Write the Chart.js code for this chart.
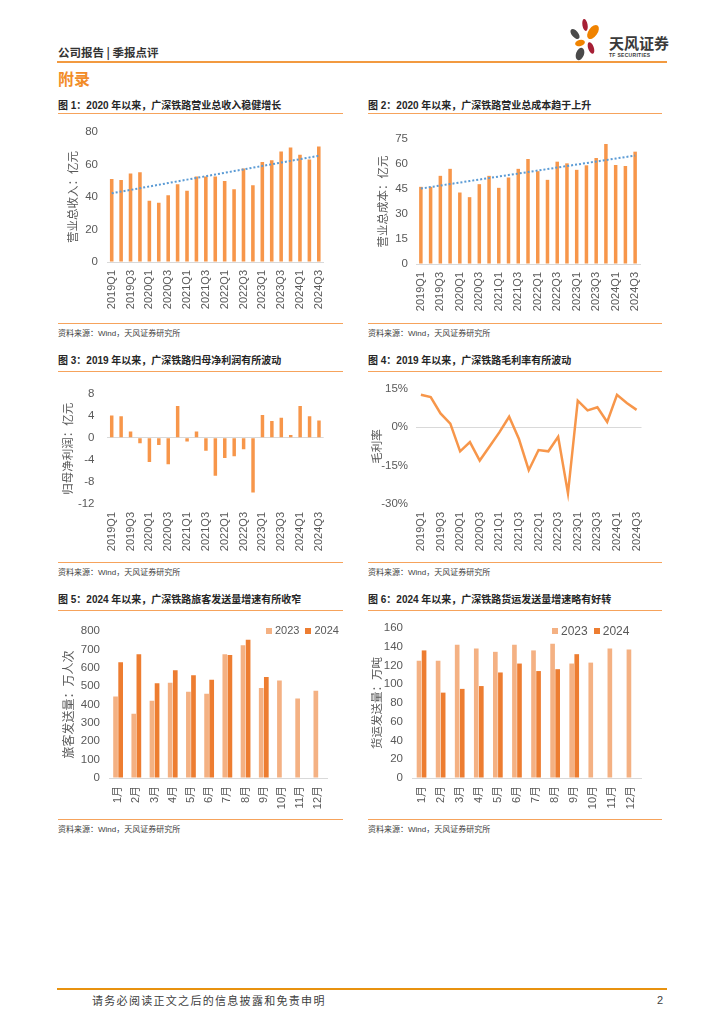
<!DOCTYPE html>
<html><head><meta charset="utf-8">
<script src="https://cdn.jsdelivr.net/npm/chart.js@4.4.1/dist/chart.umd.min.js"></script>
<style>
body{margin:0;background:#fff;width:724px;height:1024px;position:relative;overflow:hidden;font-family:'Liberation Sans','Noto Sans CJK SC',sans-serif;}
.t{position:absolute;white-space:nowrap;line-height:1;}
.ttl{position:absolute;white-space:nowrap;line-height:1;font-family:'Liberation Sans','Noto Sans CJK SC',sans-serif;font-weight:bold;font-size:10px;color:#262626;}
.hl{position:absolute;height:0;border-top:1.4px solid #F6A35C;}
.src{position:absolute;white-space:nowrap;line-height:1;font-family:'Liberation Sans','Noto Sans CJK SC',sans-serif;font-size:8px;color:#404040;}
canvas{position:absolute;}
.lg{position:absolute;display:flex;align-items:center;font-family:'Liberation Sans',sans-serif;color:#595959;line-height:1;}
.lg i{display:inline-block;width:6px;height:6px;margin-right:3px;}
.lg span{margin-right:6px;}
</style></head>
<body>
<!-- header -->
<div class="t" style="left:58px;top:47px;font-size:11.5px;font-weight:bold;color:#333;font-family:'Noto Sans CJK SC';">公司报告 | 季报点评</div>
<svg style="position:absolute;left:566px;top:18px;" width="40" height="44" viewBox="0 0 40 44">
  <ellipse cx="19" cy="7" rx="2.6" ry="6" fill="#A61F35" transform="rotate(-10 19 7)"/>
  <ellipse cx="9" cy="16" rx="3.2" ry="6" fill="#4A4A4A" transform="rotate(-40 9 16)"/>
  <ellipse cx="27" cy="14" rx="4.5" ry="8" fill="#F08300" transform="rotate(35 27 14)"/>
  <ellipse cx="14" cy="25" rx="5" ry="3" fill="#F08300" transform="rotate(-15 14 25)"/>
  <ellipse cx="25" cy="30" rx="2.8" ry="6" fill="#A61F35" transform="rotate(-20 25 30)"/>
  <ellipse cx="14" cy="36" rx="4" ry="6.5" fill="#4A4A4A" transform="rotate(20 14 36)"/>
</svg>
<div class="t" style="left:609px;top:35px;font-size:15px;font-weight:bold;color:#3a3a3a;font-family:'Noto Sans CJK SC';">天风证券</div>
<div class="t" style="left:609px;top:53px;font-size:5px;font-weight:bold;color:#3a3a3a;letter-spacing:0.3px;">TF SECURITIES</div>
<div style="position:absolute;left:57px;top:61px;width:610px;height:2px;background:#F29A40;"></div>
<div class="t" style="left:58px;top:70px;font-size:16px;font-weight:bold;color:#F28C28;font-family:'Noto Sans CJK SC';">附录</div>

<!-- row 1 -->
<div class="ttl" style="left:58px;top:101px;">图 1：2020 年以来，广深铁路营业总收入稳健增长</div>
<div class="ttl" style="left:368px;top:101px;">图 2：2020 年以来，广深铁路营业总成本趋于上升</div>
<div class="hl" style="left:58px;top:113px;width:285px;"></div>
<div class="hl" style="left:368px;top:113px;width:294px;"></div>
<div class="hl" style="left:58px;top:323px;width:285px;"></div>
<div class="hl" style="left:368px;top:323px;width:294px;"></div>
<div class="src" style="left:58px;top:330px;">资料来源：Wind，天风证券研究所</div>
<div class="src" style="left:368px;top:330px;">资料来源：Wind，天风证券研究所</div>

<!-- row 2 -->
<div class="ttl" style="left:58px;top:356px;">图 3：2019 年以来，广深铁路归母净利润有所波动</div>
<div class="ttl" style="left:368px;top:356px;">图 4：2019 年以来，广深铁路毛利率有所波动</div>
<div class="hl" style="left:58px;top:371px;width:285px;"></div>
<div class="hl" style="left:368px;top:371px;width:294px;"></div>
<div class="hl" style="left:58px;top:562px;width:285px;"></div>
<div class="hl" style="left:368px;top:562px;width:294px;"></div>
<div class="src" style="left:58px;top:569px;">资料来源：Wind，天风证券研究所</div>
<div class="src" style="left:368px;top:569px;">资料来源：Wind，天风证券研究所</div>

<!-- row 3 -->
<div class="ttl" style="left:58px;top:595px;">图 5：2024 年以来，广深铁路旅客发送量增速有所收窄</div>
<div class="ttl" style="left:368px;top:595px;">图 6：2024 年以来，广深铁路货运发送量增速略有好转</div>
<div class="hl" style="left:58px;top:610px;width:285px;"></div>
<div class="hl" style="left:368px;top:610px;width:294px;"></div>
<div class="hl" style="left:58px;top:819px;width:285px;"></div>
<div class="hl" style="left:368px;top:819px;width:294px;"></div>
<div class="src" style="left:58px;top:826px;">资料来源：Wind，天风证券研究所</div>
<div class="src" style="left:368px;top:826px;">资料来源：Wind，天风证券研究所</div>

<!-- footer -->
<div style="position:absolute;left:57px;top:988px;width:610px;height:2px;background:#E8920F;"></div>
<div class="t" style="left:92px;top:995px;font-size:11px;color:#404040;font-family:'Noto Sans CJK SC';letter-spacing:1.3px;">请务必阅读正文之后的信息披露和免责申明</div>
<div class="t" style="left:657px;top:995px;font-size:11px;color:#404040;">2</div>

<script>
// ---------------- data ----------------
const quarters = ['2019Q1','2019Q2','2019Q3','2019Q4','2020Q1','2020Q2','2020Q3','2020Q4','2021Q1','2021Q2','2021Q3','2021Q4','2022Q1','2022Q2','2022Q3','2022Q4','2023Q1','2023Q2','2023Q3','2023Q4','2024Q1','2024Q2','2024Q3'];
const revenue = [51.0,50.4,54.4,55.2,37.7,36.5,41.1,47.8,43.8,52.6,52.6,52.6,49.8,44.8,57.5,47.2,61.5,62.5,67.9,70.4,65.9,63.1,71.0];
const totalCost = [46.3,46.3,52.9,57.1,42.9,40.1,47.9,52.9,45.7,51.9,57.1,63.0,55.7,50.5,61.4,60.4,56.5,59.2,63.6,72.0,59.4,58.8,67.4];
const netProfit = [4.0,3.85,1.1,-1.0,-4.4,-1.35,-4.8,5.7,-0.7,1.1,-2.35,-6.9,-3.7,-3.35,-2.1,-9.9,4.1,3.0,3.6,0.5,5.7,3.85,3.1];
const grossMargin = [12.7,11.8,5.4,1.4,-9.4,-5.8,-13.0,-7.5,-2.0,4.1,-4.6,-16.8,-8.9,-9.4,-3.7,-25.8,10.4,6.6,7.8,2.1,12.7,9.5,6.8];
const months = ['1月','2月','3月','4月','5月','6月','7月','8月','9月','10月','11月','12月'];
const seriesNames = ['2023','2024'];
const passenger2023 = [444,350,421,519,470,459,673,722,490,530,432,475];
const passenger2024 = [630,673,515,586,559,535,670,753,550,null,null,null];
const freight2023 = [125,125,142,138,134.5,142,136,143,122,123,138,137];
const freight2024 = [136,91,95,98,112.5,122,114,116,132,null,null,null];

// ---------------- styles ----------------
const BAR = '#F7964A', C23 = '#F4B183', C24 = '#ED7D31', TREND = '#5B9BD5', AXIS = '#D9D9D9', TXT = '#595959';
const FONT = "'Liberation Sans','Noto Sans CJK SC',sans-serif";
Chart.defaults.font.family = FONT;
Chart.defaults.color = TXT;
Chart.defaults.animation = false;

function linearTrend(arr){
  const n = arr.length; let sx=0,sy=0,sxx=0,sxy=0;
  arr.forEach((y,i)=>{sx+=i;sy+=y;sxx+=i*i;sxy+=i*y;});
  const b = (n*sxy-sx*sy)/(n*sxx-sx*sx), a = (sy-b*sx)/n;
  return arr.map((_,i)=>a+b*i);
}

function canvasAt(left, top, w, h){
  const c = document.createElement('canvas');
  c.width = w; c.height = h;
  c.style.left = left+'px'; c.style.top = top+'px';
  c.style.width = w+'px'; c.style.height = h+'px';
  document.body.appendChild(c);
  return c;
}

// geometry: canvas box + desired plot box (page coordinates)
function build(g, type, labels, datasets, y, x){
  const c = canvasAt(g.cl, g.ct, g.cw, g.ch);
  const yW = g.pl - g.cl, xH = g.ct + g.ch - g.pb;
  new Chart(c, {
    type, data:{labels, datasets},
    options:{
      responsive:false, maintainAspectRatio:false,
      layout:{padding:{left:0, top:g.pt - g.ct, right:g.cl + g.cw - g.pr, bottom:0}},
      plugins:{legend:{display:false}, tooltip:{enabled:false}},
      scales:{
        x:{
          offset:true,
          grid:{display:false, drawTicks:false},
          border:{display:x.border, color:AXIS, width:1},
          ticks:{autoSkip:false, minRotation:90, maxRotation:90, padding:x.pad, font:{size:x.size, family:FONT}, color:TXT,
            callback:function(v,i){ return (x.every && i % x.every !== 0) ? '' : this.getLabelForValue(v); }},
          afterFit:(s)=>{ s.height = xH; }
        },
        y:{
          min:y.min, max:y.max,
          grid:{drawTicks:false, lineWidth:1, color:(ctx)=> (y.zero && ctx.tick && ctx.tick.value===0) ? AXIS : 'rgba(0,0,0,0)'},
          border:{display:false},
          ticks:{stepSize:y.step, padding:y.pad, font:{size:11.5, family:FONT}, color:TXT,
            callback:(v)=> y.fmt ? y.fmt(v) : v},
          title:{display:true, text:y.title, color:TXT, font:{size:y.tsize||11.5, family:"'Noto Sans CJK SC'"}, padding:{top:y.tpad, bottom:0}},
          afterFit:(s)=>{ s.width = yW; }
        }
      }
    }
  });
}

function legend(left, top, size, colors){
  const d = document.createElement('div');
  d.className = 'lg'; d.style.left = left+'px'; d.style.top = top+'px'; d.style.fontSize = size+'px';
  seriesNames.forEach((n,i)=>{
    const b = document.createElement('i'); b.style.background = colors[i];
    const s = document.createElement('span'); s.textContent = n;
    d.appendChild(b); d.appendChild(s);
  });
  document.body.appendChild(d);
}

const trendDs = (arr)=>({type:'line', data:linearTrend(arr), borderColor:TREND, borderWidth:2, borderDash:[2,2], pointRadius:0, fill:false, order:0});

// Chart 1
build({cl:57, ct:116, cw:285, ch:206, pl:107, pr:323.5, pt:130, pb:262}, 'bar', quarters,
  [trendDs(revenue), {data:revenue, backgroundColor:BAR, barPercentage:0.38, categoryPercentage:1, order:1}],
  {min:0, max:80, step:10, pad:9, title:'营业总收入：亿元', tpad:9},
  {border:true, pad:8, size:11, every:2});

// Chart 2
build({cl:367, ct:116, cw:297, ch:206, pl:416, pr:640, pt:139, pb:264}, 'bar', quarters,
  [trendDs(totalCost), {data:totalCost, backgroundColor:BAR, barPercentage:0.36, categoryPercentage:1, order:1}],
  {min:0, max:75, step:15, pad:8, title:'营业总成本：亿元', tpad:9},
  {border:true, pad:8, size:11, every:2});

// Chart 3
build({cl:57, ct:374, cw:285, ch:186, pl:107, pr:323.7, pt:385, pb:504}, 'bar', quarters,
  [{data:netProfit, backgroundColor:BAR, barPercentage:0.37, categoryPercentage:1}],
  {min:-12, max:8, step:4, pad:12.5, title:'归母净利润：亿元', tpad:4, zero:true},
  {border:false, pad:8, size:11, every:2});

// Chart 4
build({cl:367, ct:374, cw:297, ch:186, pl:416, pr:641.5, pt:388, pb:504}, 'line', quarters,
  [{data:grossMargin, borderColor:BAR, borderWidth:2.5, pointRadius:0, fill:false, tension:0, borderJoinStyle:'miter'}],
  {min:-30, max:15, step:15, pad:8, title:'毛利率', tpad:3, zero:true, fmt:(v)=>v+'%'},
  {border:false, pad:8, size:11, every:2});

// Chart 5
build({cl:57, ct:612, cw:285, ch:205, pl:109, pr:327.5, pt:631, pb:778}, 'bar', months,
  [{label:seriesNames[0], data:passenger2023, backgroundColor:C23, barPercentage:0.92, categoryPercentage:0.56},
   {label:seriesNames[1], data:passenger2024, backgroundColor:C24, barPercentage:0.92, categoryPercentage:0.56}],
  {min:0, max:800, step:100, pad:9, title:'旅客发送量：万人次', tpad:4, tsize:12},
  {border:true, pad:8, size:11, every:0});
legend(266, 625, 11, [C23, C24]);

// Chart 6
build({cl:367, ct:612, cw:297, ch:205, pl:412, pr:641, pt:625, pb:778}, 'bar', months,
  [{label:seriesNames[0], data:freight2023, backgroundColor:C23, barPercentage:0.92, categoryPercentage:0.53},
   {label:seriesNames[1], data:freight2024, backgroundColor:C24, barPercentage:0.92, categoryPercentage:0.53}],
  {min:0, max:160, step:20, pad:9, title:'货运发送量：万吨', tpad:3, tsize:11.5},
  {border:true, pad:8, size:11, every:0});
legend(552, 625, 12, [C23, C24]);
</script>
</body></html>
